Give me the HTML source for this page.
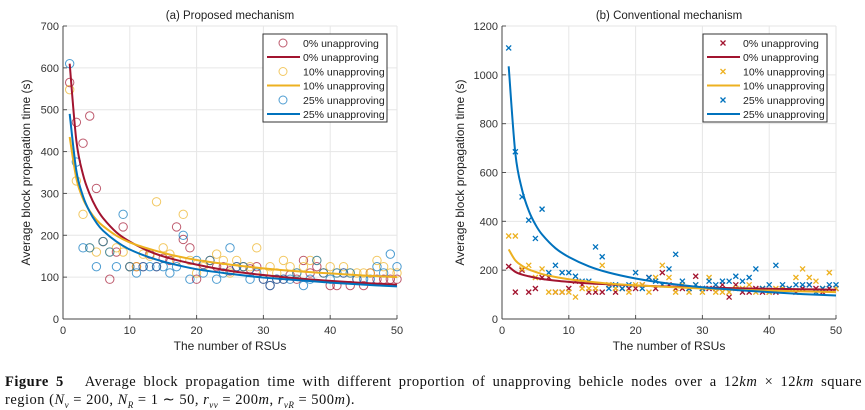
<!DOCTYPE html>
<html><head><meta charset="utf-8"><style>
body{margin:0;background:#fff;width:865px;height:408px;overflow:hidden}
svg text{font-family:"Liberation Sans",sans-serif}
.cap{position:absolute;left:5px;top:373px;width:857px;font-family:"Liberation Serif",serif;font-size:14.5px;letter-spacing:0.5px;line-height:18px;color:#111}
.cap div{white-space:nowrap}
.cap .l1{text-align:justify;text-align-last:justify;white-space:normal}
.cap sub{font-size:9px;line-height:0}
</style></head><body>
<svg id="chart" width="865" height="370" style="position:absolute;left:0;top:0"></svg>
<div class="cap"><div class="l1"><b>Figure 5</b>&nbsp;&nbsp; Average block propagation time with different proportion of unapproving behicle nodes over a 12<i>km</i> × 12<i>km</i> square</div><div>region (<i>N<sub>v</sub></i> = 200, <i>N<sub>R</sub></i> = 1 ∼ 50, <i>r<sub>vv</sub></i> = 200<i>m</i>, <i>r<sub>vR</sub></i> = 500<i>m</i>).</div></div>
<script>
const xs = Array.from({length:50},(_,i)=>i+1);
const curveX = [1,2,3,4,5,6,8,10,13,16,20,25,30,35,40,45,50];
// Left (a) scatter
const aRed = [565,470,420,485,312,185,95,160,220,125,125,125,155,125,145,140,220,190,170,95,130,140,125,125,115,125,125,120,125,95,80,95,95,105,95,140,110,125,110,80,80,110,80,95,80,110,95,95,95,95];
const aYel = [548,330,250,170,160,185,160,170,160,125,125,155,150,280,170,155,140,250,140,110,125,140,155,140,110,140,125,125,170,110,125,110,140,125,110,125,140,140,110,125,110,125,110,110,110,110,140,125,110,110];
const aBlu = [610,375,170,170,125,185,160,125,250,125,110,125,125,125,125,110,125,200,95,140,110,140,95,110,170,125,125,95,110,95,80,95,95,95,110,80,95,140,110,95,110,110,110,95,95,95,125,110,155,125];
// Left (a) fitted curves
const aRedC = [610,426,345,298,265,241,207,185,161,145,130,115,105,97,91,86,82];
const aYelC = [435,336,287,258,237,222,199,183,167,154,141,130,121,114,109,104,100];
const aBluC = [490,354,293,256,230,211,185,166,147,133,119,108,99,93,87,82,78];
// Right (b) scatter
const bRed = [215,110,200,110,125,170,170,110,110,125,155,140,110,110,110,140,110,125,125,125,140,170,125,190,140,125,125,125,175,125,125,125,140,90,140,110,110,125,110,110,110,125,125,110,125,140,125,110,125,125];
const bYel = [340,340,205,220,170,205,110,110,110,110,90,125,125,125,220,140,125,125,110,140,140,110,170,220,170,110,140,110,140,110,170,110,110,110,125,125,140,110,125,110,125,125,125,170,205,170,155,125,190,125];
const bBlu = [1110,685,500,405,330,450,190,220,190,190,175,155,155,295,255,125,140,125,140,190,125,170,155,140,205,265,155,125,140,125,155,140,155,155,175,155,170,205,125,140,220,140,125,140,140,140,110,125,140,140];
// Right (b) fitted curves
const bRedC = [215,193,182,175,169,164,157,152,146,142,137,133,129,126,124,122,120];
const bYelC = [285,240,218,203,193,184,172,163,153,145,138,131,125,120,116,113,110];
const bBluC = [1035,678,530,444,387,346,290,254,216,190,166,145,130,119,110,102,96];
const xTicks = [0,10,20,30,40,50];
const aYTicks = [0,100,200,300,400,500,600,700];
const bYTicks = [0,200,400,600,800,1000,1200];
const legendLabels = ["0% unapproving","10% unapproving","25% unapproving"];
const colors = ["#A2142F","#EDB120","#0072BD"];

const NS="http://www.w3.org/2000/svg";
const svg=document.getElementById('chart');
function mk(tag,attrs,parent){const e=document.createElementNS(NS,tag);for(const k in attrs)e.setAttribute(k,attrs[k]);(parent||svg).appendChild(e);return e;}

function panel(cfg){
  const g=mk('g',{});
  
  
  const x=v=>cfg.x0+(v-0)/50*(cfg.x1-cfg.x0);
  const y=v=>cfg.y0-v/cfg.ymax*(cfg.y0-cfg.y1);
  mk('rect',{x:cfg.x0,y:cfg.y1,width:cfg.x1-cfg.x0,height:cfg.y0-cfg.y1,fill:'#fff'},g);
  xTicks.forEach(t=>{mk('line',{x1:x(t),x2:x(t),y1:cfg.y1,y2:cfg.y0,stroke:'#e6e6e6','stroke-width':1},g);
    const tx=mk('text',{x:x(t),y:cfg.y0+15,'text-anchor':'middle','font-size':11,fill:'#333'},g);tx.textContent=t;
    
    mk('line',{x1:x(t),x2:x(t),y1:cfg.y0,y2:cfg.y0-4,stroke:'#555'},g);});
  cfg.yTicks.forEach(t=>{mk('line',{x1:cfg.x0,x2:cfg.x1,y1:y(t),y2:y(t),stroke:'#e6e6e6','stroke-width':1},g);
    const tx=mk('text',{x:cfg.x0-4,y:y(t)+4,'text-anchor':'end','font-size':11,fill:'#333'},g);tx.textContent=t;
    
    mk('line',{x1:cfg.x0,x2:cfg.x0+4,y1:y(t),y2:y(t),stroke:'#555'},g);});
  mk('line',{x1:cfg.x0,x2:cfg.x1,y1:cfg.y0,y2:cfg.y0,stroke:'#444','stroke-width':1},g);
  mk('line',{x1:cfg.x0,x2:cfg.x0,y1:cfg.y0,y2:cfg.y1,stroke:'#444','stroke-width':1},g);
  cfg.scatter.forEach((s,si)=>{
    s.forEach((v,i)=>{
      const px=x(xs[i]),py=y(v);
      let m;
      if(cfg.marker==='o'){m=mk('circle',{cx:px,cy:py,r:4.2,fill:'none',stroke:colors[si],'stroke-width':1,'stroke-opacity':0.7},g);}
      else{m=mk('path',{d:`M${px-2.5},${py-2.5}L${px+2.5},${py+2.5}M${px-2.5},${py+2.5}L${px+2.5},${py-2.5}`,stroke:colors[si],'stroke-width':1.3},g);}
      
      
    });
  });
  cfg.curves.forEach((c,ci)=>{
    const pts=c.map((v,i)=>[x(curveX[i]),y(v)]);
    let d=`M${pts[0][0]},${pts[0][1]}`;
    for(let i=0;i<pts.length-1;i++){
      const p0=pts[Math.max(0,i-1)],p1=pts[i],p2=pts[i+1],p3=pts[Math.min(pts.length-1,i+2)];
      const c1=[p1[0]+(p2[0]-p0[0])/6,p1[1]+(p2[1]-p0[1])/6],c2=[p2[0]-(p3[0]-p1[0])/6,p2[1]-(p3[1]-p1[1])/6];
      d+=`C${c1[0]},${c1[1]} ${c2[0]},${c2[1]} ${p2[0]},${p2[1]}`;
    }
    const p=mk('path',{d,fill:'none',stroke:colors[ci],'stroke-width':2},g);
    
    
  });
  const t=mk('text',{x:(cfg.x0+cfg.x1)/2,y:19,'text-anchor':'middle','font-size':11.5,fill:'#222'},g);t.textContent=cfg.title;
  
  const xl=mk('text',{x:(cfg.x0+cfg.x1)/2,y:350,'text-anchor':'middle','font-size':12,fill:'#222'},g);xl.textContent='The number of RSUs';
  
  const yl=mk('text',{x:0,y:0,'text-anchor':'middle','font-size':12,fill:'#222',transform:`translate(${cfg.ylx},${(cfg.y0+cfg.y1)/2}) rotate(-90)`},g);yl.textContent='Average block propagation time (s)';
  
  const lg=mk('g',{},g);
  
  mk('rect',{x:cfg.lx,y:34,width:124,height:88,fill:'#fff',stroke:'#333','stroke-width':1},lg);
  for(let i=0;i<3;i++){
    const ym=43+i*28.5, yl2=ym+14;
    if(cfg.marker==='o')mk('circle',{cx:cfg.lx+20,cy:ym,r:4,fill:'none',stroke:colors[i],'stroke-opacity':0.7},lg);
    else{const px=cfg.lx+20;mk('path',{d:`M${px-2.5},${ym-2.5}L${px+2.5},${ym+2.5}M${px-2.5},${ym+2.5}L${px+2.5},${ym-2.5}`,stroke:colors[i],'stroke-width':1.3},lg);}
    mk('line',{x1:cfg.lx+4,x2:cfg.lx+37,y1:yl2,y2:yl2,stroke:colors[i],'stroke-width':2},lg);
    [ym,yl2].forEach(yy=>{const tt=mk('text',{x:cfg.lx+40,y:yy+4,'font-size':10.5,fill:'#222'},lg);tt.textContent=legendLabels[i];
      });
  }
}
panel({name:'panel-a-proposed',title:'(a) Proposed mechanism',x0:63,x1:397,y0:319,y1:26,ymax:700,yTicks:aYTicks,ylx:30,scatter:[aRed,aYel,aBlu],curves:[aRedC,aYelC,aBluC],marker:'o',lx:263});
panel({name:'panel-b-conventional',title:'(b) Conventional mechanism',x0:502,x1:836,y0:319,y1:26,ymax:1200,yTicks:bYTicks,ylx:464,scatter:[bRed,bYel,bBlu],curves:[bRedC,bYelC,bBluC],marker:'x',lx:703});
</script>
</body></html>
